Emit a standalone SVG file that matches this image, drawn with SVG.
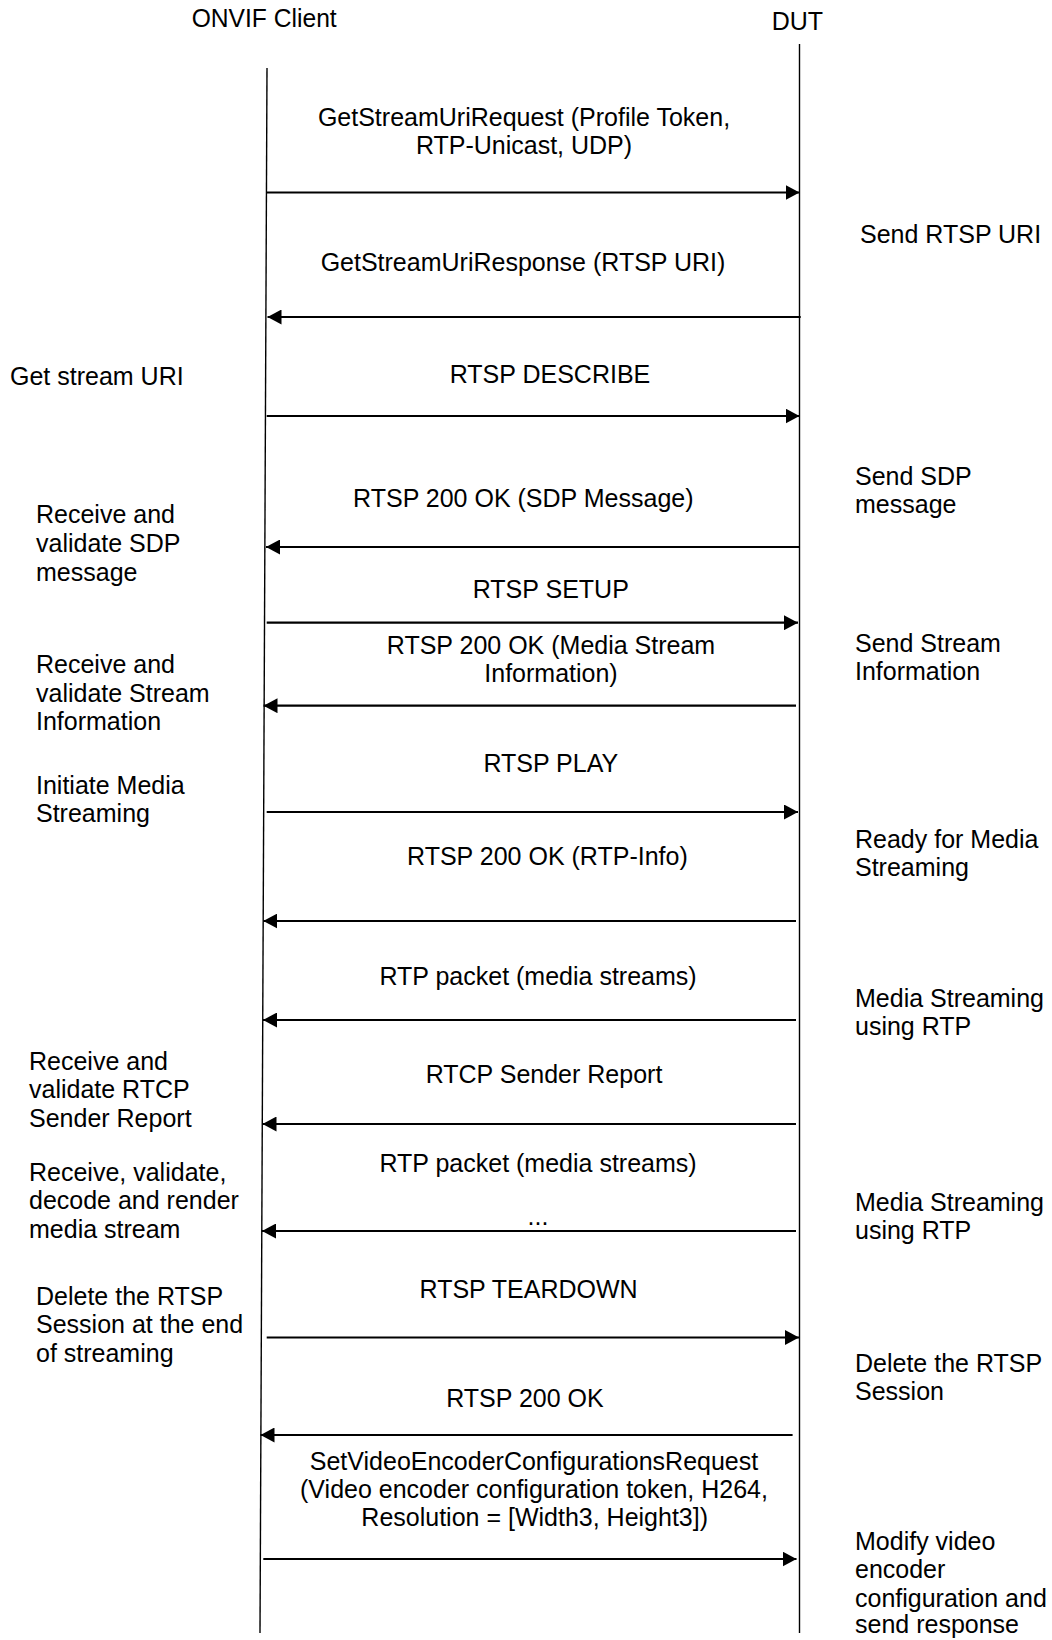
<svg xmlns="http://www.w3.org/2000/svg" width="1052" height="1640" viewBox="0 0 1052 1640">
<style>
  text { font-family: "Liberation Sans", Arial, sans-serif; font-size: 25px; fill: #000; }
  .m { text-anchor: middle; }
  .life { stroke: #000; stroke-width: 1.4; fill: none; }
  .msg { stroke: #000; stroke-width: 2.2; fill: none; marker-end: url(#ah); }
</style>
<defs>
  <marker id="ah" markerUnits="userSpaceOnUse" markerWidth="14" markerHeight="15" refX="14" refY="7.5" orient="auto" viewBox="0 0 14 15">
    <path d="M0,0 L14,7.5 L0,15 z" fill="#000"/>
  </marker>
</defs>
<rect width="1052" height="1640" fill="#fff"/>

<g id="client">
  <text x="191.7" y="27" font-size="19.5" textLength="145" lengthAdjust="spacingAndGlyphs">ONVIF Client</text>
  <path class="life" d="M267,68 L260,1633"/>
</g>
<g id="dut">
  <text x="771.7" y="30" font-size="24">DUT</text>
  <path class="life" d="M799.5,44 V1633"/>
</g>

<g id="client-notes">
  <text x="10" y="385">Get stream URI</text>
  <text x="36" y="523.3">Receive and</text>
  <text x="36" y="552">validate SDP</text>
  <text x="36" y="580.7">message</text>
  <text x="36" y="673.3">Receive and</text>
  <text x="36" y="701.7">validate Stream</text>
  <text x="36" y="730">Information</text>
  <text x="36" y="794">Initiate Media</text>
  <text x="36" y="821.7">Streaming</text>
  <text x="29" y="1070">Receive and</text>
  <text x="29" y="1098.3">validate RTCP</text>
  <text x="29" y="1126.7">Sender Report</text>
  <text x="29" y="1181">Receive, validate,</text>
  <text x="29" y="1209.3">decode and render</text>
  <text x="29" y="1237.7">media stream</text>
  <text x="36" y="1305">Delete the RTSP</text>
  <text x="36" y="1333.3">Session at the end</text>
  <text x="36" y="1361.7">of streaming</text>
</g>

<g id="dut-notes">
  <text x="860" y="242.7">Send RTSP URI</text>
  <text x="855" y="485">Send SDP</text>
  <text x="855" y="513.3">message</text>
  <text x="855" y="651.7">Send Stream</text>
  <text x="855" y="679.5">Information</text>
  <text x="855" y="848">Ready for Media</text>
  <text x="855" y="875.5">Streaming</text>
  <text x="855" y="1006.7">Media Streaming</text>
  <text x="855" y="1035">using RTP</text>
  <text x="855" y="1211">Media Streaming</text>
  <text x="855" y="1239">using RTP</text>
  <text x="855" y="1371.7">Delete the RTSP</text>
  <text x="855" y="1400">Session</text>
  <text x="855" y="1550">Modify video</text>
  <text x="855" y="1578.3">encoder</text>
  <text x="855" y="1606.7">configuration and</text>
  <text x="855" y="1633.3">send response</text>
</g>

<g id="connectors">
  <path class="msg" d="M266.7,192.5 H799.5"/>
  <path class="msg" d="M800.7,317 H267.5"/>
  <path class="msg" d="M266.7,416 H799.5"/>
  <path class="msg" d="M799.3,547 H266"/>
  <path class="msg" d="M266.7,622.7 H798"/>
  <path class="msg" d="M796,705.7 H263.5"/>
  <path class="msg" d="M266.7,812 H798"/>
  <path class="msg" d="M796,921 H263.3"/>
  <path class="msg" d="M796,1020 H263"/>
  <path class="msg" d="M796,1124 H262.5"/>
  <path class="msg" d="M796,1231 H262"/>
  <path class="msg" d="M266.7,1337.5 H799"/>
  <path class="msg" d="M792.6,1435 H260.5"/>
  <path class="msg" d="M263.3,1559 H796.5"/>
</g>

<g id="message-labels">
  <text class="m" x="524" y="126">GetStreamUriRequest (Profile Token,</text>
  <text class="m" x="524" y="154">RTP-Unicast, UDP)</text>
  <text class="m" x="523" y="271">GetStreamUriResponse (RTSP URI)</text>
  <text class="m" x="550" y="383">RTSP DESCRIBE</text>
  <text class="m" x="523.3" y="507">RTSP 200 OK (SDP Message)</text>
  <text class="m" x="550.8" y="598">RTSP SETUP</text>
  <text class="m" x="551" y="654">RTSP 200 OK (Media Stream</text>
  <text class="m" x="551" y="681.5">Information)</text>
  <text class="m" x="550.8" y="771.5">RTSP PLAY</text>
  <text class="m" x="547.4" y="865">RTSP 200 OK (RTP-Info)</text>
  <text class="m" x="538" y="985">RTP packet (media streams)</text>
  <text class="m" x="544" y="1083">RTCP Sender Report</text>
  <text class="m" x="538" y="1172">RTP packet (media streams)</text>
  <text class="m" x="538" y="1225">...</text>
  <text class="m" x="528.6" y="1298">RTSP TEARDOWN</text>
  <text class="m" x="525" y="1406.5">RTSP 200 OK</text>
  <text class="m" x="534" y="1470">SetVideoEncoderConfigurationsRequest</text>
  <text class="m" x="534" y="1498">(Video encoder configuration token, H264,</text>
  <text class="m" x="534.7" y="1526">Resolution = [Width3, Height3])</text>
</g>
</svg>
